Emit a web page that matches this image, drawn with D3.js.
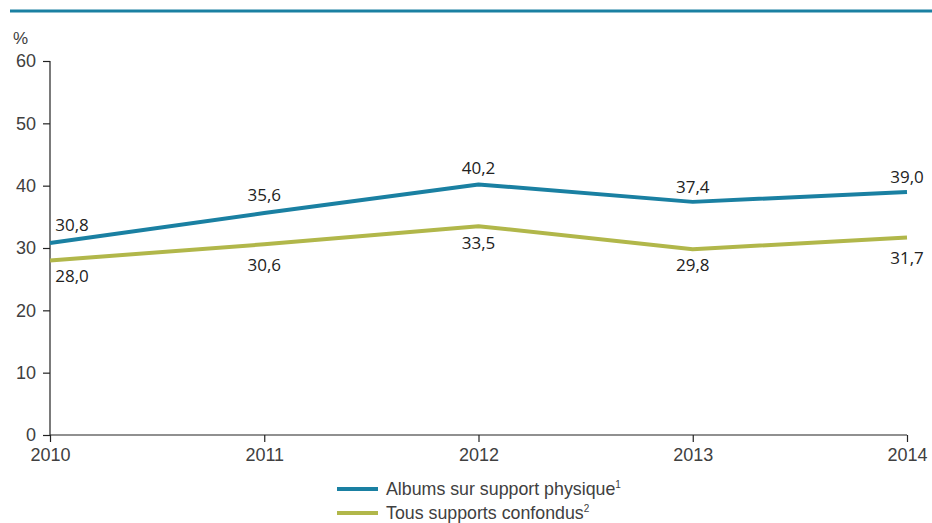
<!DOCTYPE html>
<html>
<head>
<meta charset="utf-8">
<script src="https://cdn.jsdelivr.net/npm/d3@7"></script>
<style>
  html, body { margin: 0; padding: 0; background: #fff; }
  svg { display: block; }
</style>
</head>
<body>
<svg id="chart" width="932" height="523"></svg>
<script>
// Years on the x axis
const years = [2010, 2011, 2012, 2013, 2014];
// Share of albums on physical media (%)
const albumsPhysique = [30.8, 35.6, 40.2, 37.4, 39.0];
// Share across all media (%)
const tousSupports = [28.0, 30.6, 33.5, 29.8, 31.7];
// Y axis tick values
const yTicks = [0, 10, 20, 30, 40, 50, 60];
// Series names for the legend
const seriesNames = ["Albums sur support physique", "Tous supports confondus"];
const seriesNotes = ["1", "2"];

const blue = "#1a80a2";
const green = "#b1b74a";

const svg = d3.select("#chart");

// Top rule
svg.append("line")
  .attr("x1", 10).attr("x2", 932)
  .attr("y1", 11).attr("y2", 11)
  .attr("stroke", blue).attr("stroke-width", 3);

const x = d3.scalePoint().domain(years).range([50, 907]);
const y = d3.scaleLinear().domain([0, 60]).range([435, 61]);

const tickFont = "'Liberation Sans', Arial, sans-serif";
const textGrey = "#404040";

// Y axis
const yAxis = svg.append("g")
  .attr("transform", "translate(50,0)")
  .call(d3.axisLeft(y).tickValues(yTicks).tickSize(7).tickPadding(7).tickFormat(d3.format("d")));
yAxis.select(".domain").attr("stroke", "#222").attr("stroke-width", 1.2).attr("d", "M0,61V435");
yAxis.selectAll(".tick line").attr("stroke", "#222").attr("stroke-width", 1.2);
yAxis.selectAll(".tick text")
  .attr("font-family", tickFont).attr("font-size", 18).attr("fill", textGrey);

// X axis
const xAxis = svg.append("g")
  .attr("transform", "translate(0,435)")
  .call(d3.axisBottom(x).tickSize(7).tickPadding(6).tickFormat(d3.format("d")));
xAxis.select(".domain").attr("stroke", "#222").attr("stroke-width", 1.2).attr("d", "M50,0H907");
xAxis.selectAll(".tick line").attr("stroke", "#222").attr("stroke-width", 1.2);
xAxis.selectAll(".tick text")
  .attr("font-family", tickFont).attr("font-size", 18).attr("fill", textGrey);

// Unit label
svg.append("text")
  .attr("x", 13).attr("y", 44)
  .attr("font-family", tickFont).attr("font-size", 17).attr("fill", textGrey)
  .text("%");

const fmt = v => d3.format(".1f")(v).replace(".", ",");

// Vertical placement of each value label relative to its point
const aboveShift = [-18, -18, -16, -15, -15];
const belowShift = [16, 21, 17, 16, 21];

const series = [
  { values: albumsPhysique, color: blue, shift: aboveShift },
  { values: tousSupports, color: green, shift: belowShift }
];

const line = d3.line()
  .x((d, i) => x(years[i]))
  .y(d => y(d));

series.forEach(s => {
  svg.append("path")
    .datum(s.values)
    .attr("fill", "none")
    .attr("stroke", s.color)
    .attr("stroke-width", 4)
    .attr("stroke-linejoin", "round")
    .attr("d", line);
});

// Value labels
const labelFont = "'Open Sans', 'DejaVu Sans', sans-serif";
series.forEach(s => {
  svg.append("g").selectAll("text")
    .data(s.values)
    .join("text")
    .attr("x", (d, i) => x(years[i]) + (i === 0 ? 22 : 0))
    .attr("y", (d, i) => y(d) + s.shift[i])
    .attr("dy", "0.35em")
    .attr("text-anchor", "middle")
    .attr("font-family", labelFont)
    .attr("font-size", 17)
    .attr("fill", "#222")
    .text(fmt);
});

// Legend
const legendFont = "'Liberation Sans', Arial, sans-serif";
const legend = svg.append("g");
[blue, green].forEach((c, i) => {
  const ly = 489 + i * 24;
  legend.append("line")
    .attr("x1", 337).attr("x2", 378)
    .attr("y1", ly).attr("y2", ly)
    .attr("stroke", c).attr("stroke-width", 4);
  const t = legend.append("text")
    .attr("x", 386).attr("y", ly + 6)
    .attr("font-family", legendFont).attr("font-size", 17.8).attr("fill", textGrey);
  t.append("tspan").text(seriesNames[i]);
  t.append("tspan").attr("font-size", 10).attr("dy", -7).text(seriesNotes[i]);
});
</script>
</body>
</html>
